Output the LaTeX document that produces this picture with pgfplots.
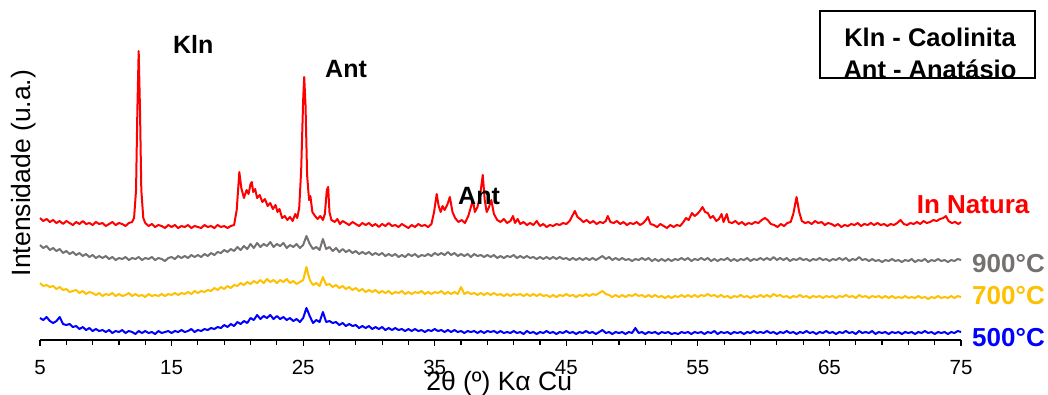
\documentclass[border=0pt]{standalone}
\usepackage{pgfplots}
\pgfplotsset{compat=1.18}
\usepackage{pgfplotstable}
\usepackage{fontspec}
\setmainfont{Liberation Sans}
\definecolor{cred}{RGB}{255,0,0}
\definecolor{cgray}{RGB}{118,113,113}
\definecolor{corange}{RGB}{255,192,0}
\definecolor{cblue}{RGB}{0,0,255}

\pgfplotstableread{
x y
5.00 122
5.25 119
5.50 121
5.75 118
6.00 120
6.25 117
6.50 119
6.75 116
7.00 119
7.25 117
7.50 115
7.75 118
8.00 116
8.25 119
8.50 116
8.75 117
9.00 115
9.25 118
9.50 116
9.75 117
10.00 114
10.25 116
10.50 118
10.75 115
11.00 117
11.25 116
11.50 114
11.75 117
12.00 118
12.15 122
12.30 150
12.40 230
12.50 289
12.60 230
12.70 150
12.85 122
13.00 117
13.25 114
13.50 116
13.75 113
14.00 115
14.25 114
14.50 112
14.75 115
15.00 113
15.25 115
15.50 112
15.75 114
16.00 113
16.25 115
16.50 112
16.75 114
17.00 113
17.25 112
17.50 115
17.75 113
18.00 114
18.25 112
18.50 115
18.75 113
19.00 114
19.25 112
19.50 114
19.75 115
19.95 130
20.15 168
20.30 152
20.50 142
20.70 150
20.85 146
21.00 156
21.10 158
21.20 148
21.35 151
21.50 142
21.70 145
21.90 138
22.10 141
22.30 134
22.50 137
22.70 131
22.90 135
23.05 128
23.20 131
23.40 122
23.60 124
23.80 120
24.00 123
24.20 119
24.40 126
24.55 122
24.70 132
24.85 170
25.00 240
25.08 263
25.18 235
25.30 165
25.45 140
25.55 144
25.70 128
25.90 124
26.10 121
26.30 124
26.50 120
26.65 126
26.80 150
26.90 153
27.00 128
27.15 120
27.40 118
27.60 121
27.80 116
28.00 119
28.25 117
28.50 115
28.75 118
29.00 116
29.25 114
29.50 117
29.75 115
30.00 117
30.25 114
30.50 116
30.75 113
31.00 116
31.25 114
31.50 117
31.75 114
32.00 115
32.25 113
32.50 116
32.75 114
33.00 112
33.25 115
33.50 113
33.75 116
34.00 114
34.25 115
34.50 113
34.75 116
34.95 128
35.15 146
35.30 134
35.45 128
35.60 134
35.75 130
35.95 135
36.15 143
36.35 128
36.55 122
36.80 118
37.05 120
37.30 117
37.55 124
37.75 133
37.90 140
38.05 128
38.25 133
38.45 145
38.65 165
38.80 140
38.95 128
39.10 132
39.30 140
39.50 126
39.75 120
40.00 118
40.25 121
40.50 117
40.75 119
40.95 124
41.10 117
41.30 121
41.50 116
41.75 118
42.00 115
42.25 117
42.50 115
42.75 119
43.00 114
43.25 116
43.50 113
43.75 115
44.00 114
44.25 116
44.50 115
44.75 117
45.00 116
45.25 119
45.45 124
45.65 129
45.85 123
46.05 121
46.30 118
46.55 120
46.80 117
47.05 119
47.30 116
47.55 118
47.80 117
48.00 119
48.15 124
48.35 118
48.60 117
48.85 119
49.10 116
49.35 118
49.60 115
49.85 117
50.10 116
50.35 118
50.60 115
50.85 117
51.05 120
51.20 123
51.40 116
51.65 115
51.90 113
52.15 116
52.40 114
52.65 112
52.90 115
53.15 113
53.40 115
53.65 114
53.90 118
54.10 122
54.30 120
54.55 127
54.75 124
54.95 126
55.15 129
55.35 133
55.55 128
55.75 127
55.95 122
56.15 124
56.40 119
56.60 121
56.80 126
56.95 118
57.20 126
57.35 118
57.60 117
57.85 119
58.10 116
58.35 118
58.60 115
58.85 117
59.10 116
59.35 118
59.60 117
59.85 120
60.10 122
60.30 120
60.55 116
60.80 115
61.05 113
61.30 116
61.55 114
61.80 117
62.05 118
62.25 126
62.50 143
62.70 128
62.90 119
63.15 117
63.40 118
63.65 116
63.90 119
64.15 117
64.40 118
64.65 115
64.90 117
65.15 116
65.40 114
65.65 116
65.90 113
66.15 115
66.40 114
66.65 116
66.90 115
67.15 117
67.40 114
67.65 116
67.90 115
68.15 117
68.40 115
68.65 117
68.90 115
69.15 116
69.40 114
69.65 116
69.90 115
70.15 117
70.40 120
70.65 116
70.90 115
71.15 117
71.40 116
71.65 118
71.90 116
72.15 119
72.40 117
72.65 118
72.90 120
73.15 119
73.40 121
73.65 122
73.85 124
74.05 119
74.30 117
74.55 118
74.80 116
75.00 118
}\natura

\pgfplotstableread{
x g o b
5.00 95 57 22
5.25 92 54 20
5.50 94 55 23
5.75 90 53 19
6.00 92 54 17
6.25 89 51 19
6.50 91 53 23
6.75 87 50 16
7.00 89 51 15
7.25 86 48 16
7.50 88 49 13
7.75 85 50 14
8.00 87 47 11
8.25 84 49 13
8.50 86 46 10
8.75 83 48 12
9.00 85 47 9
9.25 82 45 11
9.50 84 47 9
9.75 82 44 10
10.00 84 46 8
10.25 81 45 10
10.50 83 47 7
10.75 80 44 9
11.00 82 46 8
11.25 81 44 10
11.50 83 45 7
11.75 80 47 9
12.00 82 44 8
12.25 81 46 6
12.50 83 44 9
12.75 80 45 7
13.00 82 43 9
13.25 81 46 7
13.50 83 44 8
13.75 80 45 6
14.00 82 44 9
14.25 81 46 7
14.50 79 44 8
14.75 82 46 9
15.00 83 45 7
15.25 81 47 9
15.50 84 45 8
15.75 82 47 10
16.00 84 46 8
16.25 82 48 9
16.50 85 46 11
16.75 83 49 8
17.00 85 47 10
17.25 83 49 9
17.50 86 48 11
17.75 84 50 10
18.00 87 49 12
18.25 85 52 11
18.50 88 50 13
18.75 87 53 12
19.00 90 51 15
19.25 88 54 13
19.50 91 52 16
19.75 89 55 14
20.00 93 54 18
20.25 90 57 16
20.50 94 55 19
20.75 91 58 17
21.00 96 56 22
21.25 92 59 20
21.50 97 57 25
21.75 93 60 21
22.00 96 57 24
22.25 94 61 22
22.50 98 58 25
22.75 93 60 21
23.00 96 57 24
23.25 94 60 21
23.50 97 58 23
23.75 92 61 20
24.00 95 57 22
24.25 93 59 19
24.50 96 56 21
24.75 92 58 18
25.00 95 60 22
25.25 104 73 32
25.50 96 60 24
25.75 91 55 17
26.00 93 57 20
26.25 90 54 18
26.50 101 63 28
26.75 91 55 18
27.00 93 56 19
27.25 89 53 17
27.50 92 55 18
27.75 88 52 15
28.00 91 54 17
28.25 88 51 14
28.50 90 53 16
28.75 87 50 14
29.00 89 52 15
29.25 86 49 12
29.50 88 51 14
29.75 86 48 12
30.00 88 50 14
30.25 85 48 11
30.50 87 50 13
30.75 85 47 11
31.00 87 49 13
31.25 84 47 10
31.50 86 49 12
31.75 84 46 10
32.00 86 48 12
32.25 83 47 10
32.50 85 49 11
32.75 83 46 9
33.00 86 48 11
33.25 84 46 9
33.50 86 48 11
33.75 83 47 9
34.00 85 49 10
34.25 84 46 8
34.50 86 48 10
34.75 84 46 9
35.00 87 48 11
35.25 85 47 9
35.50 87 49 10
35.75 85 46 8
36.00 88 48 10
36.25 85 46 8
36.50 87 48 10
36.75 84 46 8
37.00 86 53 9
37.25 84 46 7
37.50 86 48 9
37.75 83 46 8
38.00 86 47 9
38.25 84 45 7
38.50 85 47 9
38.75 83 45 7
39.00 85 47 9
39.25 83 45 8
39.50 85 47 9
39.75 82 45 7
40.00 84 46 9
40.25 82 44 7
40.50 84 46 8
40.75 83 44 7
41.00 85 46 9
41.25 82 45 7
41.50 84 46 8
41.75 82 44 6
42.00 84 46 9
42.25 82 44 7
42.50 83 46 8
42.75 81 44 6
43.00 83 46 8
43.25 81 44 7
43.50 83 45 9
43.75 81 43 7
44.00 83 45 8
44.25 81 43 6
44.50 83 45 8
44.75 81 44 7
45.00 82 46 9
45.25 80 44 7
45.50 82 45 8
45.75 80 43 6
46.00 82 45 8
46.25 80 44 7
46.50 82 46 9
46.75 80 44 7
47.00 82 46 8
47.25 80 45 6
47.50 82 47 8
47.75 84 49 10
48.00 81 46 7
48.25 83 45 8
48.50 80 43 6
48.75 82 45 8
49.00 80 43 7
49.25 82 45 8
49.50 80 43 6
49.75 81 45 8
50.00 79 44 7
50.25 81 46 12
50.50 80 44 7
50.75 82 45 8
51.00 80 43 6
51.25 82 45 8
51.50 79 43 7
51.75 81 45 8
52.00 79 43 6
52.25 81 44 8
52.50 79 42 7
52.75 81 44 8
53.00 79 42 6
53.25 81 44 7
53.50 80 43 6
53.75 82 45 8
54.00 80 43 7
54.25 82 45 8
54.50 79 43 6
54.75 81 45 8
55.00 80 43 7
55.25 82 45 8
55.50 80 44 6
55.75 82 46 8
56.00 79 44 7
56.25 81 45 9
56.50 79 43 6
56.75 81 45 8
57.00 80 43 7
57.25 82 44 8
57.50 79 42 6
57.75 81 44 8
58.00 79 43 7
58.25 81 45 8
58.50 80 43 6
58.75 82 44 8
59.00 79 42 7
59.25 81 44 9
59.50 80 43 7
59.75 82 45 8
60.00 80 43 7
60.25 82 45 9
60.50 80 43 7
60.75 83 46 8
61.00 80 44 6
61.25 82 45 8
61.50 80 43 7
61.75 82 44 9
62.00 79 42 7
62.25 81 44 8
62.50 80 43 6
62.75 82 45 8
63.00 80 43 7
63.25 81 44 9
63.50 79 42 7
63.75 81 44 8
64.00 80 43 6
64.25 82 44 8
64.50 80 42 7
64.75 81 44 9
65.00 79 43 7
65.25 81 44 8
65.50 80 42 6
65.75 82 44 8
66.00 80 43 7
66.25 82 45 9
66.50 79 43 7
66.75 81 44 8
67.00 80 42 6
67.25 83 45 9
67.50 80 43 7
67.75 81 44 8
68.00 79 42 7
68.25 81 44 9
68.50 79 43 6
68.75 80 44 8
69.00 78 42 7
69.25 80 44 8
69.50 79 42 6
69.75 81 44 8
70.00 79 42 7
70.25 80 43 8
70.50 78 42 6
70.75 80 44 8
71.00 79 42 7
71.25 81 43 8
71.50 78 42 6
71.75 80 44 8
72.00 79 42 7
72.25 81 43 9
72.50 78 41 7
72.75 80 43 8
73.00 79 42 6
73.25 81 44 8
73.50 79 42 7
73.75 80 43 8
74.00 78 42 6
74.25 80 44 8
74.50 79 42 7
74.75 81 44 9
75.00 80 43 8
}\calc

\begin{document}
\begin{tikzpicture}
\begin{axis}[
  at={(0,0)}, anchor=south west,
  scale only axis, width=921pt, height=340pt,
  xmin=5, xmax=75, ymin=0, ymax=340,
  axis x line=bottom, axis y line=none,
  x axis line style={-, line width=1.5pt},
  xtick={5,15,...,75},
  minor x tick num=4,
  tick align=outside,
  major tick length=6pt, minor tick length=5pt,
  every tick/.style={black, line width=1.2pt},
  xticklabel style={font=\fontsize{20.5}{24}\selectfont, yshift=-11pt},
  /pgf/number format/assume math mode=true,
  clip=false,
]
\addplot[cblue, line width=2pt, line join=round] table[x=x, y=b] {\calc};
\addplot[corange, line width=2pt, line join=round] table[x=x, y=o] {\calc};
\addplot[cgray, line width=2pt, line join=round] table[x=x, y=g] {\calc};
\addplot[cred, line width=2pt, line join=round] table[x=x, y=y] {\natura};

\node[font=\fontsize{25}{30}\selectfont\bfseries] at (axis cs:16.64,295.5) {Kln};
\node[font=\fontsize{25}{30}\selectfont\bfseries] at (axis cs:28.26,271) {Ant};
\node[font=\fontsize{25}{30}\selectfont\bfseries] at (axis cs:38.37,143.5) {Ant};

\node[font=\fontsize{26}{30}\selectfont\bfseries, text=cred, anchor=east] at (axis cs:80.47,135) {In Natura};
\node[font=\fontsize{26}{30}\selectfont\bfseries, text=cgray, anchor=east, inner sep=0pt] at (axis cs:81.38,76) {900°C};
\node[font=\fontsize{26}{30}\selectfont\bfseries, text=corange, anchor=east, inner sep=0pt] at (axis cs:81.38,44) {700°C};
\node[font=\fontsize{26}{30}\selectfont\bfseries, text=cblue, anchor=east, inner sep=0pt] at (axis cs:81.38,2.5) {500°C};

\node[font=\fontsize{25.5}{30}\selectfont\bfseries, anchor=base] at (axis cs:72.64,294) {Kln - Caolinita};
\node[font=\fontsize{25.5}{30}\selectfont\bfseries, anchor=base] at (axis cs:72.64,262) {Ant - Anatásio};
\draw[black, line width=1.5pt] (axis cs:64.28,329) rectangle (axis cs:80.62,262);

\node[font=\fontsize{26.5}{30}\selectfont, rotate=90] at (axis cs:3.78,167) {Intensidade (u.a.)};
\node[font=\fontsize{26.5}{30}\selectfont, anchor=base] at (axis cs:39.9,-50) {2θ (º) Kα Cu};

\coordinate (bbsw) at (axis cs:1.96,-54);
\coordinate (bbne) at (axis cs:81.61,340);
\end{axis}
\pgfresetboundingbox
\useasboundingbox (bbsw) rectangle (bbne);
\end{tikzpicture}
\end{document}
